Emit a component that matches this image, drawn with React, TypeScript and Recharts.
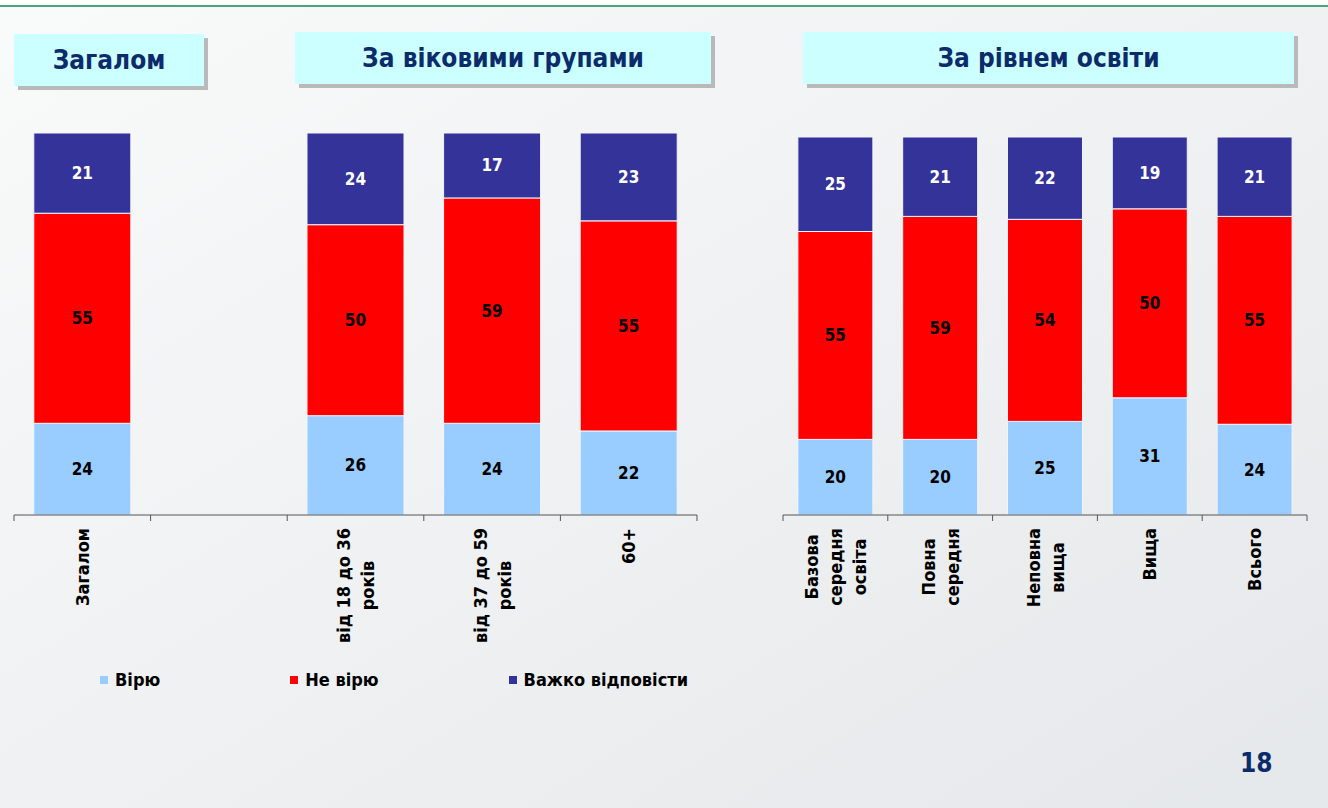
import React from "react";
import { BarChart, Bar, XAxis, YAxis, LabelList, Legend } from "recharts";

// ---------- data ----------
const leftCategories = ["Загалом", "", "від 18 до 36 років", "від 37 до 59 років", "60+"];
const leftTickLines = [["Загалом"], [], ["від 18 до 36", "років"], ["від 37 до 59", "років"], ["60+"]];
const leftBelieve: (number | null)[] = [24, null, 26, 24, 22];
const leftNotBelieve: (number | null)[] = [55, null, 50, 59, 55];
const leftHard: (number | null)[] = [21, null, 24, 17, 23];

const rightCategories = ["Базова середня освіта", "Повна середня", "Неповна вища", "Вища", "Всього"];
const rightTickLines = [["Базова", "середня", "освіта"], ["Повна", "середня"], ["Неповна", "вища"], ["Вища"], ["Всього"]];
const rightBelieve: (number | null)[] = [20, 20, 25, 31, 24];
const rightNotBelieve: (number | null)[] = [55, 59, 54, 50, 55];
const rightHard: (number | null)[] = [25, 21, 22, 19, 21];

const seriesNames = ["Вірю", "Не вірю", "Важко відповісти"];
const seriesColors = ["#99ccff", "#ff0000", "#333399"];
const labelColors = ["#000000", "#000000", "#ffffff"];
const sectionTitles = ["Загалом", "За віковими групами", "За рівнем освіти"];
const pageNumber = "18";

// ---------- style ----------
const FONT = "'DejaVu Sans Condensed', 'DejaVu Sans', sans-serif";
const AXIS = "#555555";
const TITLE_COLOR = "#0c2b6b";
const TICK_FONT_SIZE = 18;
const LINE_H = 24;

const buildData = (cats: string[], a: (number | null)[], b: (number | null)[], c: (number | null)[]) =>
  cats.map((cat, i) => ({ cat, s0: a[i] ?? 0, s1: b[i] ?? 0, s2: c[i] ?? 0, r0: a[i], r1: b[i], r2: c[i] }));

const leftData = buildData(leftCategories, leftBelieve, leftNotBelieve, leftHard);
const rightData = buildData(rightCategories, rightBelieve, rightNotBelieve, rightHard);

let ctx: CanvasRenderingContext2D | null = null;
const measure = (t: string) => {
  if (!ctx) ctx = document.createElement("canvas").getContext("2d");
  if (!ctx) return t.length * 10;
  ctx.font = `bold ${TICK_FONT_SIZE}px ${FONT}`;
  return ctx.measureText(t).width;
};

const makeTick = (lines: string[][], count: number) => (props: any) => {
  const { x, y, payload, index } = props;
  const half = payload?.offset ?? 0;
  const ls = lines[index] || [];
  const maxW = Math.max(0, ...ls.map((l) => measure(l)));
  const cx = -(13 + maxW / 2);
  return (
    <g>
      <line x1={x - half} x2={x - half} y1={y} y2={y + 6} stroke={AXIS} strokeWidth={1} />
      {index === count - 1 && <line x1={x + half} x2={x + half} y1={y} y2={y + 6} stroke={AXIS} strokeWidth={1} />}
      <g transform={`translate(${x},${y}) rotate(-90)`}>
        {ls.map((l, i) => (
          <text
            key={i}
            x={cx}
            y={(i - (ls.length - 1) / 2) * LINE_H}
            textAnchor="middle"
            dominantBaseline="central"
            fontFamily={FONT}
            fontWeight="bold"
            fontSize={TICK_FONT_SIZE}
            fill="#000"
          >
            {l}
          </text>
        ))}
      </g>
    </g>
  );
};

const makeLabel = (color: string) => (props: any) => {
  const { x, y, width, height, value } = props;
  if (value == null || value === "" || height <= 0) return null;
  return (
    <text
      x={x + width / 2}
      y={y + height / 2}
      textAnchor="middle"
      dominantBaseline="central"
      fontFamily={FONT}
      fontWeight="bold"
      fontSize={17}
      fill={color}
    >
      {value}
    </text>
  );
};

const renderLegend = (props: any) => {
  const payload = [...(props.payload || [])].sort(
    (a: any, b: any) => seriesNames.indexOf(a.value) - seriesNames.indexOf(b.value)
  );
  return (
    <div style={{ display: "flex", alignItems: "center", fontFamily: FONT, fontWeight: "bold", fontSize: 18, whiteSpace: "nowrap", color: "#000" }}>
      {payload.map((p: any, i: number) => (
        <div key={i} style={{ display: "flex", alignItems: "center", marginRight: 130 }}>
          <span style={{ display: "inline-block", width: 8, height: 8, background: p.color, marginRight: 7 }} />
          <span>{p.value}</span>
        </div>
      ))}
    </div>
  );
};

const Series = () =>
  [0, 1, 2].map((k) => (
    <Bar
      key={k}
      dataKey={`s${k}`}
      name={seriesNames[k]}
      stackId="a"
      fill={seriesColors[k]}
      stroke="#f4f4fa"
      strokeWidth={1}
      isAnimationActive={false}
    >
      <LabelList dataKey={`r${k}`} content={makeLabel(labelColors[k])} />
    </Bar>
  ));

const TitleBox = ({ left, top, width, text }: { left: number; top: number; width: number; text: string }) => (
  <div
    style={{
      position: "absolute",
      left,
      top,
      width,
      height: 52,
      background: "#ccffff",
      boxShadow: "4px 4px 0 #b9b9b9",
      display: "flex",
      alignItems: "center",
      justifyContent: "center",
      fontFamily: FONT,
      fontWeight: "bold",
      fontSize: 26,
      color: TITLE_COLOR,
    }}
  >
    {text}
  </div>
);

export default function App() {
  return (
    <div
      style={{
        position: "absolute",
        left: 0,
        top: 0,
        width: 1328,
        height: 808,
        overflow: "hidden",
        background: "linear-gradient(to bottom right, #f9fafa, #e5e8ea)",
      }}
    >
      <div style={{ position: "absolute", left: 0, top: 0, width: 1328, height: 5, background: "#ffffff" }} />
      <div style={{ position: "absolute", left: 0, top: 5, width: 1328, height: 2, background: "#48a678" }} />

      <TitleBox left={14} top={34} width={190} text={sectionTitles[0]} />
      <TitleBox left={295} top={32} width={416} text={sectionTitles[1]} />
      <TitleBox left={803} top={32} width={491} text={sectionTitles[2]} />

      <div style={{ position: "absolute", left: 0, top: 0 }}>
        <BarChart
          width={720}
          height={808}
          data={leftData}
          stackOffset="expand"
          barCategoryGap="14.5%"
          margin={{ top: 133, right: 23, bottom: 173, left: 14 }}
        >
          <XAxis
            dataKey="cat"
            height={120}
            interval={0}
            tickSize={0}
            tickMargin={0}
            tickLine={false}
            axisLine={{ stroke: AXIS, strokeWidth: 1 }}
            tick={makeTick(leftTickLines, leftCategories.length)}
          />
          <YAxis hide domain={[0, 1]} />
          {Series()}
          <Legend
            layout="vertical"
            align="center"
            verticalAlign="middle"
            content={renderLegend}
            wrapperStyle={{ left: 100, top: 669, width: 700 }}
          />
        </BarChart>
      </div>

      <div style={{ position: "absolute", left: 760, top: 0 }}>
        <BarChart
          width={568}
          height={808}
          data={rightData}
          stackOffset="expand"
          barCategoryGap="14.2%"
          margin={{ top: 137, right: 21, bottom: 173, left: 23 }}
        >
          <XAxis
            dataKey="cat"
            height={120}
            interval={0}
            tickSize={0}
            tickMargin={0}
            tickLine={false}
            axisLine={{ stroke: AXIS, strokeWidth: 1 }}
            tick={makeTick(rightTickLines, rightCategories.length)}
          />
          <YAxis hide domain={[0, 1]} />
          {Series()}
        </BarChart>
      </div>

      <div
        style={{
          position: "absolute",
          left: 1240,
          top: 748,
          fontFamily: FONT,
          fontWeight: "bold",
          fontSize: 26,
          color: TITLE_COLOR,
        }}
      >
        {pageNumber}
      </div>
    </div>
  );
}
